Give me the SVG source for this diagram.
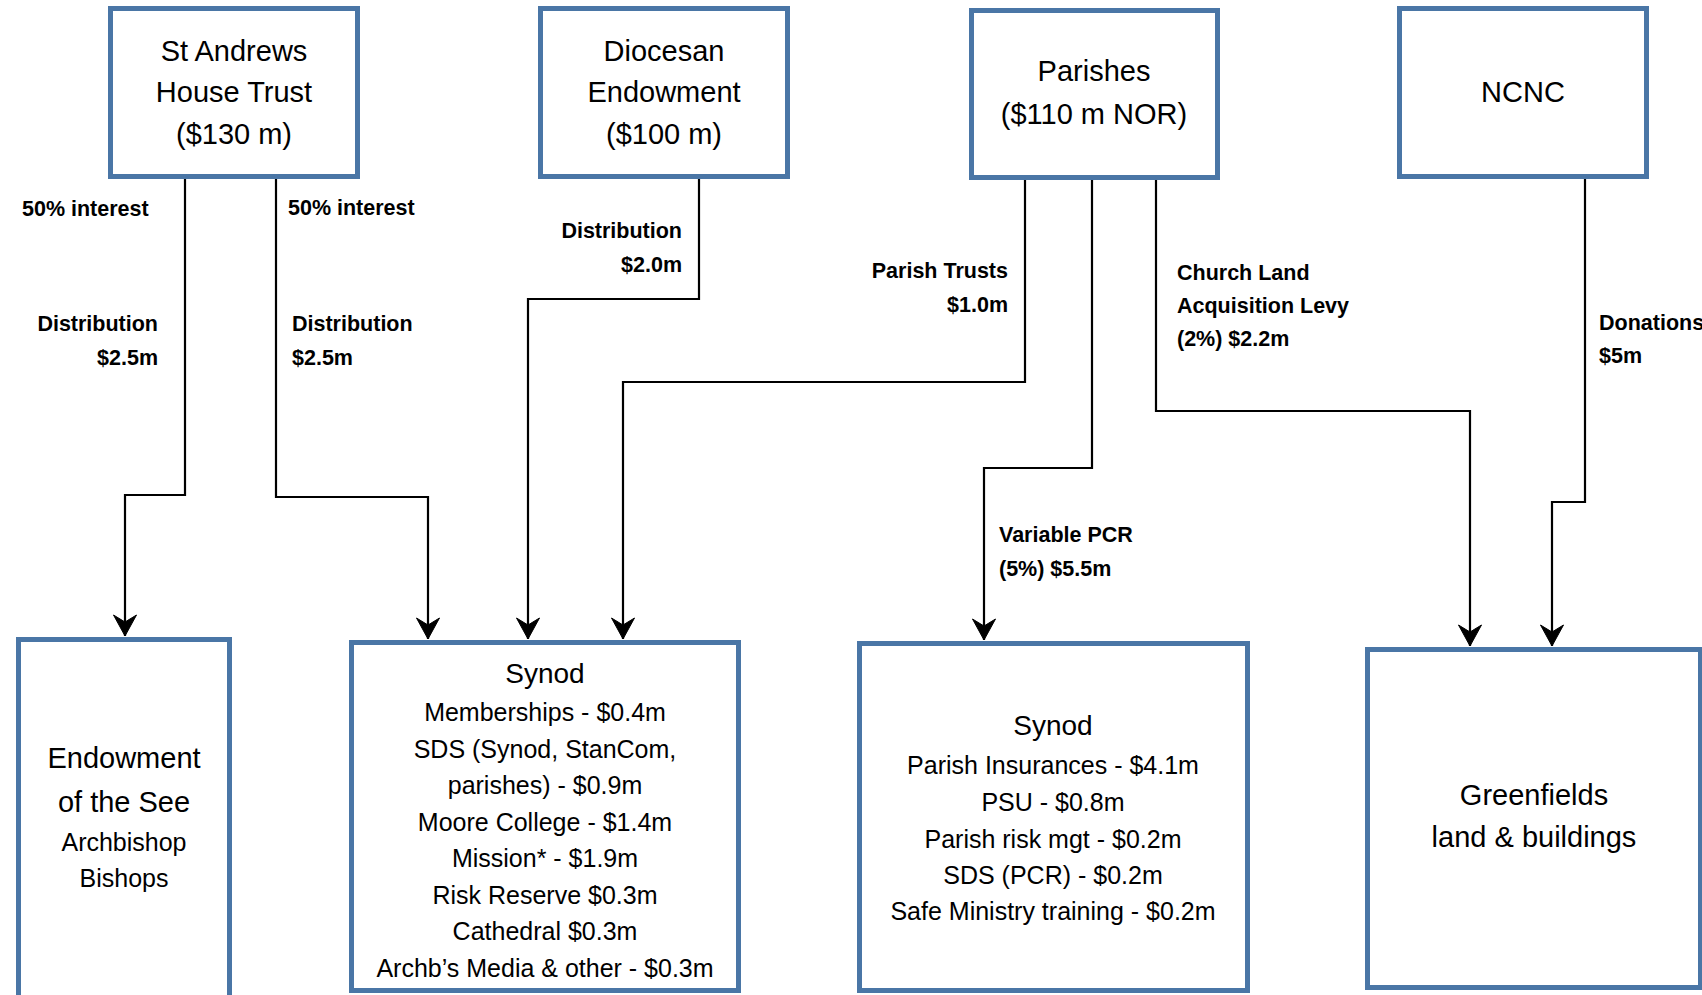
<svg xmlns="http://www.w3.org/2000/svg" width="1702" height="995" viewBox="0 0 1702 995">
<style>
.box{fill:#fff;stroke:#4A76A6;stroke-width:5}
.big{font-family:"Liberation Sans",Arial,sans-serif;font-size:29px;fill:#000;text-anchor:middle}
.hd{font-family:"Liberation Sans",Arial,sans-serif;font-size:28px;fill:#000;text-anchor:middle}
.it{font-family:"Liberation Sans",Arial,sans-serif;font-size:25px;fill:#000;text-anchor:middle}
.lb{font-family:"Liberation Sans",Arial,sans-serif;font-size:21.5px;font-weight:bold;fill:#000}
.end{text-anchor:end}
.con{fill:none;stroke:#000;stroke-width:2.2}
</style>
<defs>
<marker id="arr" markerUnits="userSpaceOnUse" viewBox="-23 -13 24 26" refX="0" refY="0" markerWidth="24" markerHeight="26" orient="auto">
<path d="M0,0 L-21,-11.5 L-14,0 L-21,11.5 Z" fill="#000" stroke="#000" stroke-width="1" stroke-linejoin="miter"/>
</marker>
</defs>
<rect width="1702" height="995" fill="#fff"/>

<g id="connectors">
<path class="con" d="M185,179 V495 H125 V636" marker-end="url(#arr)"/>
<path class="con" d="M276,179 V497 H428 V639" marker-end="url(#arr)"/>
<path class="con" d="M699,179 V299 H528 V639" marker-end="url(#arr)"/>
<path class="con" d="M1025,180 V382 H623 V639" marker-end="url(#arr)"/>
<path class="con" d="M1092,180 V468 H984 V640" marker-end="url(#arr)"/>
<path class="con" d="M1156,180 V411 H1470 V646" marker-end="url(#arr)"/>
<path class="con" d="M1585,179 V502 H1552 V646" marker-end="url(#arr)"/>
<text class="lb" x="22" y="216">50% interest</text>
<text class="lb end" x="158" y="331">Distribution</text>
<text class="lb end" x="158" y="365">$2.5m</text>
<text class="lb" x="288" y="215">50% interest</text>
<text class="lb" x="292" y="331">Distribution</text>
<text class="lb" x="292" y="365">$2.5m</text>
<text class="lb end" x="682" y="238">Distribution</text>
<text class="lb end" x="682" y="272">$2.0m</text>
<text class="lb end" x="1008" y="278">Parish Trusts</text>
<text class="lb end" x="1008" y="312">$1.0m</text>
<text class="lb" x="1177" y="280">Church Land</text>
<text class="lb" x="1177" y="313">Acquisition Levy</text>
<text class="lb" x="1177" y="346">(2%) $2.2m</text>
<text class="lb" x="1599" y="330">Donations</text>
<text class="lb" x="1599" y="363">$5m</text>
<text class="lb" x="999" y="542">Variable PCR</text>
<text class="lb" x="999" y="576">(5%) $5.5m</text>
</g>

<g id="st-andrews">
<rect class="box" x="110.5" y="8.5" width="247" height="168"/>
<text class="big" x="234" y="61">St Andrews</text>
<text class="big" x="234" y="102">House Trust</text>
<text class="big" x="234" y="144">($130 m)</text>
</g>

<g id="diocesan-endowment">
<rect class="box" x="540.5" y="8.5" width="247" height="168"/>
<text class="big" x="664" y="61">Diocesan</text>
<text class="big" x="664" y="102">Endowment</text>
<text class="big" x="664" y="144">($100 m)</text>
</g>

<g id="parishes">
<rect class="box" x="971.5" y="10.5" width="246" height="167"/>
<text class="big" x="1094" y="81">Parishes</text>
<text class="big" x="1094" y="124">($110 m NOR)</text>
</g>

<g id="ncnc">
<rect class="box" x="1399.5" y="8.5" width="247" height="168"/>
<text class="big" x="1523" y="102">NCNC</text>
</g>

<g id="endowment-see">
<rect class="box" x="18.5" y="639.5" width="211" height="400"/>
<text class="big" x="124" y="768">Endowment</text>
<text class="big" x="124" y="812">of the See</text>
<text class="it" x="124" y="851">Archbishop</text>
<text class="it" x="124" y="887">Bishops</text>
</g>

<g id="synod-1">
<rect class="box" x="351.5" y="642.5" width="387" height="348"/>
<text class="hd" x="545" y="683">Synod</text>
<text class="it" x="545" y="721">Memberships - $0.4m</text>
<text class="it" x="545" y="757.5">SDS (Synod, StanCom,</text>
<text class="it" x="545" y="794">parishes) - $0.9m</text>
<text class="it" x="545" y="830.5">Moore College - $1.4m</text>
<text class="it" x="545" y="867">Mission* - $1.9m</text>
<text class="it" x="545" y="903.5">Risk Reserve $0.3m</text>
<text class="it" x="545" y="940">Cathedral $0.3m</text>
<text class="it" x="545" y="976.5">Archb’s Media &amp; other - $0.3m</text>
</g>

<g id="synod-2">
<rect class="box" x="859.5" y="643.5" width="388" height="347"/>
<text class="hd" x="1053" y="735">Synod</text>
<text class="it" x="1053" y="774">Parish Insurances - $4.1m</text>
<text class="it" x="1053" y="811">PSU - $0.8m</text>
<text class="it" x="1053" y="848">Parish risk mgt - $0.2m</text>
<text class="it" x="1053" y="884">SDS (PCR) - $0.2m</text>
<text class="it" x="1053" y="920">Safe Ministry training - $0.2m</text>
</g>

<g id="greenfields">
<rect class="box" x="1367.5" y="649.5" width="333" height="338"/>
<text class="big" x="1534" y="805">Greenfields</text>
<text class="big" x="1534" y="847">land &amp; buildings</text>
</g>
</svg>
